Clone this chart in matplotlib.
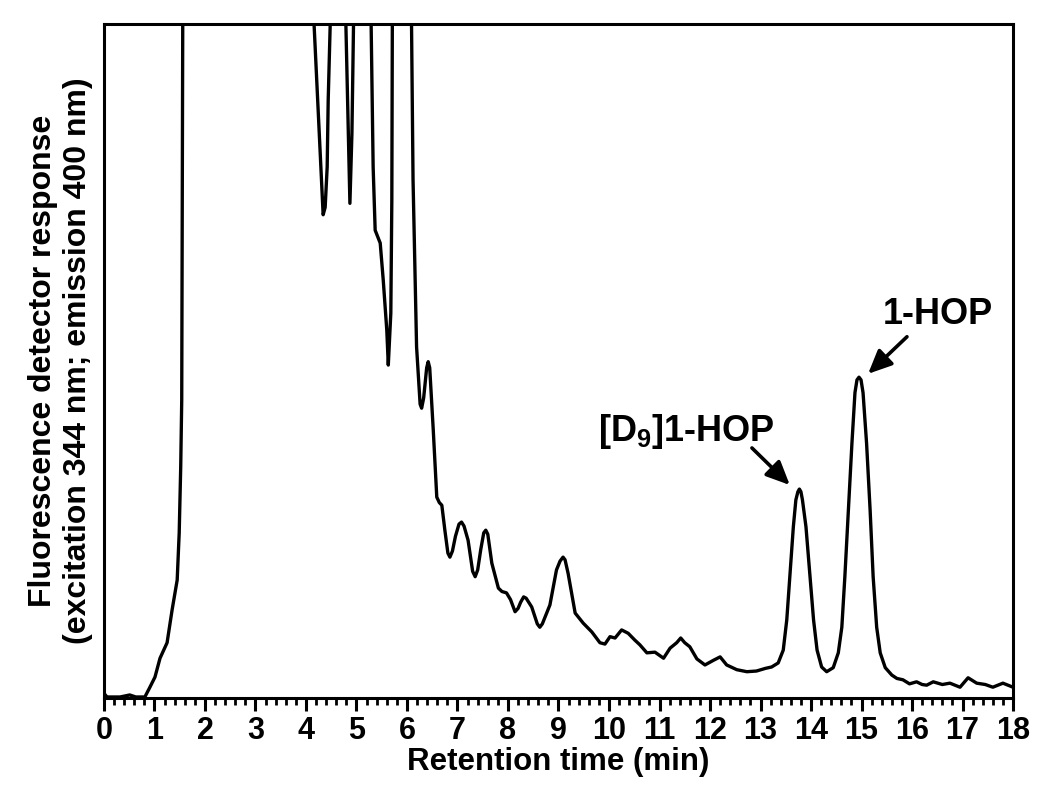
import matplotlib.pyplot as plt

plt.rcParams['font.family'] = ['Liberation Sans', 'DejaVu Sans']
plt.rcParams['font.weight'] = 'bold'
plt.rcParams['mathtext.fontset'] = 'custom'
plt.rcParams['mathtext.rm'] = 'Liberation Sans:bold'
plt.rcParams['mathtext.bf'] = 'Liberation Sans:bold'

# retention time (min) and detector signal (arbitrary units, 100 = top of frame)
# values above 100 are off-scale and get clipped by the axes
time = [0.00, 0.06, 0.32, 0.51, 0.63, 0.81, 0.91, 1.01, 1.11, 1.25, 1.35, 1.45,
        1.49, 1.52, 1.54, 1.56, 1.60, 2.50, 3.50, 4.12,
        4.16, 4.28, 4.34, 4.38, 4.42, 4.44, 4.48, 4.55, 4.75,
        4.79, 4.84, 4.87, 4.91, 4.94, 5.00, 5.25,
        5.29, 5.33, 5.37, 5.47, 5.53, 5.60, 5.63, 5.68, 5.70, 5.71, 5.78, 6.05,
        6.09, 6.12, 6.19, 6.26, 6.29, 6.33, 6.39, 6.42, 6.45, 6.52, 6.59, 6.64,
        6.69, 6.75, 6.81, 6.85, 6.90, 6.96, 7.03, 7.08, 7.13, 7.21, 7.30, 7.35,
        7.40, 7.46, 7.52, 7.56, 7.60, 7.68, 7.81, 7.88, 7.97, 8.05, 8.14, 8.20,
        8.25, 8.31, 8.36, 8.47, 8.58, 8.63, 8.68, 8.83, 8.96, 9.03, 9.09, 9.13,
        9.19, 9.33, 9.49, 9.66, 9.82, 9.92, 10.02, 10.12, 10.25, 10.38, 10.51,
        10.61, 10.75, 10.91, 11.08, 11.21, 11.34, 11.42, 11.50, 11.60, 11.74,
        11.90, 12.07, 12.20, 12.33, 12.53, 12.73, 12.92, 13.10, 13.22, 13.35,
        13.45, 13.52, 13.58, 13.65, 13.70, 13.74, 13.77, 13.80, 13.83, 13.90,
        13.98, 14.05, 14.12, 14.21, 14.31, 14.44, 14.54, 14.61, 14.67, 14.74,
        14.81, 14.87, 14.91, 14.95, 14.99, 15.03, 15.10, 15.17, 15.23, 15.30,
        15.37, 15.47, 15.60, 15.70, 15.82, 15.95, 16.09, 16.20, 16.29, 16.42,
        16.60, 16.75, 16.95, 17.11, 17.28, 17.45, 17.60, 17.80, 18.00]
signal = [0.7, 0.15, 0.15, 0.45, 0.15, 0.15, 1.6, 3.1, 5.9, 8.2, 13.1, 17.5,
          24.5, 34.3, 44.2, 100, 140, 150, 150, 130,
          100, 81.3, 71.7, 72.8, 78.8, 88.7, 100, 125, 125,
          100, 83.8, 73.4, 83.8, 100, 125, 125,
          100, 78.8, 69.4, 67.5, 62.0, 54.6, 49.4, 57.1, 73.9, 100, 125, 125,
          100, 76.9, 52.1, 43.6, 43.0, 44.5, 49.0, 49.9, 49.0, 39.8, 29.8, 29.0,
          28.6, 24.9, 21.5, 20.9, 21.8, 24.0, 25.8, 26.1, 25.5, 23.4, 18.8, 18.0,
          19.0, 22.0, 24.5, 24.9, 24.3, 20.0, 16.3, 15.8, 15.6, 14.6, 12.8, 13.3,
          14.2, 15.0, 14.8, 13.5, 11.0, 10.5, 11.0, 13.8, 19.0, 20.3, 20.9, 20.5,
          18.5, 12.6, 11.1, 9.8, 8.2, 8.0, 9.1, 8.9, 10.1, 9.6, 8.6,
          7.9, 6.7, 6.8, 5.9, 7.4, 8.2, 8.9, 8.2, 7.6, 5.8,
          4.9, 5.6, 6.1, 4.9, 4.2, 3.9, 4.0, 4.4, 4.6, 5.2,
          7.1, 11.6, 18.0, 25.4, 29.4, 30.6, 31.0, 30.6, 29.4, 25.4,
          18.0, 11.6, 7.1, 4.6, 3.9, 4.5, 6.7, 10.5, 18.0, 27.9,
          37.8, 45.3, 47.2, 47.6, 47.2, 45.3, 37.8, 27.9, 18.0, 10.5,
          6.7, 4.5, 3.4, 2.9, 2.7, 2.1, 2.4, 2.0, 1.9, 2.4,
          2.0, 2.2, 1.6, 3.0, 2.2, 2.0, 1.6, 2.2, 1.6]

peak_labels = ['[D$_9$]1-HOP', '1-HOP']
label_pos = [(11.54, 39.6), (16.51, 56.9)]
arrow_tail = [(12.83, 37.1), (15.90, 53.6)]
arrow_tip = [(13.58, 31.6), (15.13, 48.1)]

fig = plt.figure(figsize=(10.5, 8.01), dpi=100)
ax = fig.add_axes([0.099, 0.1286, 0.8658, 0.8414])

ax.plot(time, signal, color='black', lw=2.4, solid_joinstyle='round')

for lab, pos, tail, tip in zip(peak_labels, label_pos, arrow_tail, arrow_tip):
    ax.text(pos[0], pos[1], lab, fontsize=26, fontweight='bold', ha='center', va='center')
    ax.annotate('', xy=tip, xytext=tail,
                arrowprops=dict(arrowstyle='-|>,head_length=0.55,head_width=0.25',
                                color='black', lw=2.6, mutation_scale=26, shrinkA=0, shrinkB=0))

ax.set_xlim(0, 18)
ax.set_ylim(0, 100)
ax.set_xticks(range(0, 19))
ax.set_xticks([i * 0.2 for i in range(91)], minor=True)
ax.set_yticks([])
ax.tick_params(axis='x', which='major', direction='out', length=9, width=2.2,
               labelsize=22, pad=4)
ax.tick_params(axis='x', which='minor', direction='out', length=5, width=2.0)
for sp in ax.spines.values():
    sp.set_linewidth(2.2)

ax.set_xlabel('Retention time (min)', fontsize=22.5, fontweight='bold', labelpad=1)
ax.set_ylabel('Fluorescence detector response\n(excitation 344 nm; emission 400 nm)',
              fontsize=23, fontweight='bold', labelpad=8, linespacing=1.2)

plt.savefig('out.png', dpi=100)
